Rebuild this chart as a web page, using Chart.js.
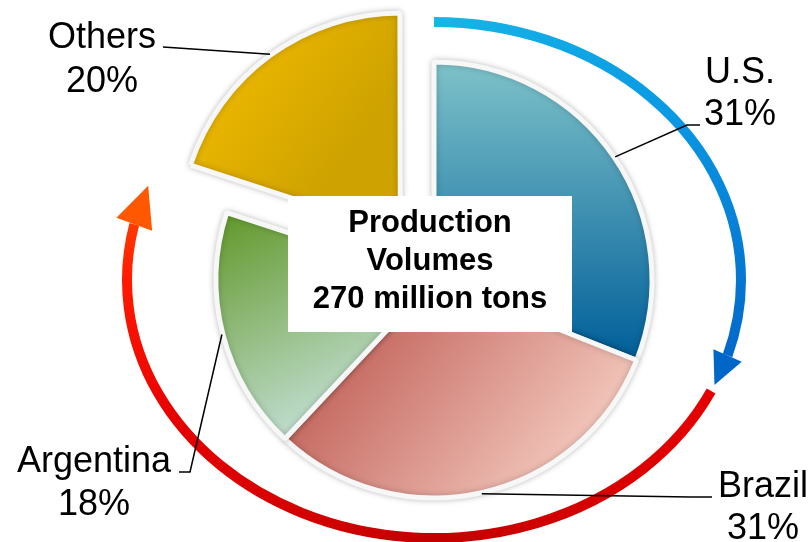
<!DOCTYPE html>
<html>
<head>
<meta charset="utf-8">
<script src="https://cdn.jsdelivr.net/npm/chart.js@4"></script>
<style>
  html, body { margin: 0; padding: 0; background: #ffffff; }
  #wrap { width: 810px; height: 542px; position: relative; }
</style>
</head>
<body>
<div id="wrap"><canvas id="c"></canvas></div>
<script>
// ---- data ----
const categories = ['U.S.', 'Brazil', 'Argentina', 'Others'];
const shares = [31, 31, 18, 20];
const centerLines = ['Production', 'Volumes', '270 million tons'];

// ---- layout / style ----
const PIE_RADIUS = 218;
const EXPLODE_PX = 60;              // visual shift of the "Others" slice
const OFFSETS = [0, 0, 0, 229];     // Chart.js offset giving ~60px shift
const LABEL_FONT = '36px "Liberation Sans", Arial, sans-serif';
const CENTER_FONT = 'bold 31px "Liberation Sans", Arial, sans-serif';
// text centre x, first baseline, line height, leader elbow & end
const labelLayout = [
  { tx: 740, ty: 83,  lh: 42, elbow: [687, 125], end: [700, 125] },
  { tx: 763, ty: 497, lh: 42, elbow: [690, 497], end: [712, 497] },
  { tx: 94,  ty: 472, lh: 43, elbow: [190, 472], end: [179, 472] },
  { tx: 102, ty: 48,  lh: 44, elbow: [163, 47],  end: [163, 47] }
];

function center(chart) {
  const a = chart.chartArea;
  return { cx: (a.left + a.right) / 2, cy: (a.top + a.bottom) / 2 };
}

function sliceGradient(context) {
  const chart = context.chart;
  const i = context.dataIndex;
  const fallback = ['#3a8fb0', '#dc9a92', '#8fb87a', '#e4b000'][i];
  if (!chart.chartArea) return fallback;
  const { cx, cy } = center(chart);
  const g = chart.ctx;
  let gr;
  if (i === 0) {
    gr = g.createLinearGradient(cx, cy - 217, cx, cy + 75);
    gr.addColorStop(0, '#7ec2c9');
    gr.addColorStop(1, '#02609a');
  } else if (i === 1) {
    gr = g.createLinearGradient(cx - 80, cy + 55, cx + 120, cy + 215);
    gr.addColorStop(0, '#c4675f');
    gr.addColorStop(1, '#f3c8bd');
  } else if (i === 2) {
    gr = g.createLinearGradient(cx - 215, cy - 65, cx - 110, cy + 150);
    gr.addColorStop(0, '#62982a');
    gr.addColorStop(1, '#c4e0d6');
  } else {
    const ox = cx - 35, oy = cy - 49;
    gr = g.createLinearGradient(ox - 170, oy - 175, ox, oy - 55);
    gr.addColorStop(0, '#f7bf00');
    gr.addColorStop(1, '#cea200');
  }
  return gr;
}

// decorative elliptical arrows around the pie
const ARROW = { rx: 307, ry: 258, width: 10 };
function ept(cx, cy, th) {
  const r = th * Math.PI / 180;
  return [cx + ARROW.rx * Math.sin(r), cy - ARROW.ry * Math.cos(r)];
}
function drawArrow(ctx, cx, cy, th0, th1, thTip, half, strokeStyle, headStyle) {
  ctx.save();
  ctx.beginPath();
  ctx.ellipse(cx, cy, ARROW.rx, ARROW.ry, 0, (th0 - 90) * Math.PI / 180, (th1 - 90) * Math.PI / 180, false);
  ctx.lineWidth = ARROW.width;
  ctx.lineCap = 'butt';
  ctx.strokeStyle = strokeStyle;
  ctx.stroke();
  const b = ept(cx, cy, th1), t = ept(cx, cy, thTip);
  let dx = t[0] - b[0], dy = t[1] - b[1];
  const L = Math.hypot(dx, dy); dx /= L; dy /= L;
  const nx = -dy, ny = dx;
  ctx.beginPath();
  ctx.moveTo(t[0], t[1]);
  ctx.lineTo(b[0] + nx * half, b[1] + ny * half);
  ctx.lineTo(b[0] - nx * half, b[1] - ny * half);
  ctx.closePath();
  ctx.fillStyle = headStyle;
  ctx.fill();
  ctx.restore();
}

const decorPlugin = {
  id: 'decor',
  beforeDatasetsDraw(chart) {
    const ctx = chart.ctx;
    const { cx, cy } = center(chart);
    // blue arrow
    const blue = ctx.createConicGradient(-Math.PI / 2, cx, cy);
    blue.addColorStop(0, '#16b6e6');
    blue.addColorStop(0.15, '#0a9ae4');
    blue.addColorStop(0.31, '#0062c6');
    blue.addColorStop(1, '#0062c6');
    drawArrow(ctx, cx, cy, 0, 107, 114, 15.5, blue, '#0066c8');
    // red arrow
    const red = ctx.createConicGradient(0, cx, cy);
    red.addColorStop(0, '#ea0000');
    red.addColorStop(0.08, '#e40000');
    red.addColorStop(0.25, '#c20000');
    red.addColorStop(0.42, '#e60000');
    red.addColorStop(0.5, '#ff1a00');
    red.addColorStop(0.56, '#ff5a00');
    red.addColorStop(1, '#ff5a00');
    drawArrow(ctx, cx, cy, 115.5, 282.5, 291.4, 19, red, '#ff5800');
    // soft shadow for slices
    ctx.save();
    ctx.shadowColor = 'rgba(0,0,0,0.22)';
    ctx.shadowBlur = 6;
  },
  afterDatasetsDraw(chart) {
    const ctx = chart.ctx;
    ctx.restore();
    const meta = chart.getDatasetMeta(0);
    // leader lines + labels
    ctx.save();
    ctx.strokeStyle = '#000';
    ctx.lineWidth = 1.5;
    meta.data.forEach((el, i) => {
      const mid = (el.startAngle + el.endAngle) / 2;
      const shift = i === 3 ? EXPLODE_PX : 0;
      const r = el.outerRadius + shift + 1;
      const sx = el.x + Math.cos(mid) * r, sy = el.y + Math.sin(mid) * r;
      const L = labelLayout[i];
      ctx.beginPath();
      ctx.moveTo(sx, sy);
      ctx.lineTo(L.elbow[0], L.elbow[1]);
      ctx.lineTo(L.end[0], L.end[1]);
      ctx.stroke();
      ctx.fillStyle = '#000';
      ctx.font = LABEL_FONT;
      ctx.textAlign = 'center';
      ctx.textBaseline = 'alphabetic';
      ctx.fillText(categories[i], L.tx, L.ty);
      ctx.fillText(shares[i] + '%', L.tx, L.ty + L.lh);
    });
    // centre box
    ctx.fillStyle = '#ffffff';
    ctx.fillRect(288, 196, 284, 136);
    ctx.fillStyle = '#000';
    ctx.font = CENTER_FONT;
    ctx.textAlign = 'center';
    centerLines.forEach((t, k) => ctx.fillText(t, 430, 232 + k * 38));
    ctx.restore();
  }
};

new Chart(document.getElementById('c'), {
  type: 'pie',
  data: {
    labels: categories,
    datasets: [{
      data: shares,
      backgroundColor: sliceGradient,
      borderColor: '#f7f7f7',
      borderWidth: 5,
      offset: OFFSETS,
      hoverOffset: 0
    }]
  },
  options: {
    responsive: true,
    maintainAspectRatio: false,
    animation: false,
    events: [],
    radius: PIE_RADIUS,
    layout: { padding: { left: 58, top: 18, right: 0, bottom: 0 } },
    plugins: { legend: { display: false }, tooltip: { enabled: false } }
  },
  plugins: [decorPlugin]
});
</script>
</body>
</html>
